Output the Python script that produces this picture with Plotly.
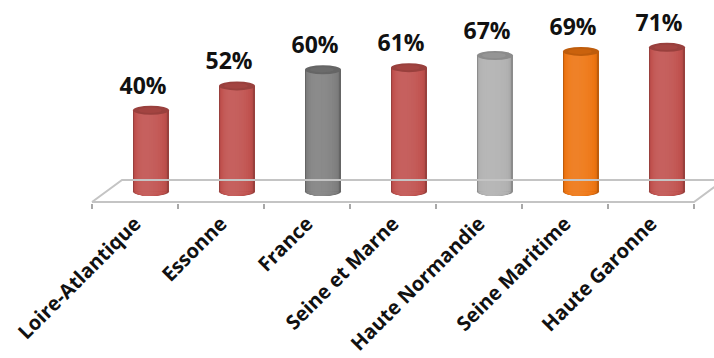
import math
import plotly.graph_objects as go

categories = ["Loire-Atlantique", "Essonne", "France", "Seine et Marne",
              "Haute Normandie", "Seine Maritime", "Haute Garonne"]
values = [40, 52, 60, 61, 67, 69, 71]
labels = ["40%", "52%", "60%", "61%", "67%", "69%", "71%"]
bar_colors = ["#C0504D", "#C0504D", "#7F7F7F", "#C0504D", "#B0B0B0", "#EE7410", "#C0504D"]

# ---- geometry (pixel-based layout constants) ----
W, H = 714, 358
CAT_PX = 86.0          # pixels per category
X_LEFT_PX = 92.0       # pixel of first category boundary
PX_PER_PCT = 2.03
BASE_PX = 191.5        # pixel row of value 0
PLOT_BOTTOM_PX = 203.0

x_min = -0.5 - X_LEFT_PX / CAT_PX
x_max = -0.5 + (W - X_LEFT_PX) / CAT_PX
y_min = -(PLOT_BOTTOM_PX - BASE_PX) / PX_PER_PCT
y_max = BASE_PX / PX_PER_PCT

CYL_OFF = 16 / CAT_PX
CYL_W = 36 / CAT_PX
ELL_H = 9 / PX_PER_PCT
LBL_OFF_X = 8 / CAT_PX
LBL_OFF_Y = 22.5 / PX_PER_PCT
DEPTH_X = 30 / CAT_PX
Y_FRONT = (BASE_PX - 202) / PX_PER_PCT
Y_BACK = (BASE_PX - 180) / PX_PER_PCT


def shade(hexc, f):
    r, g, b = int(hexc[1:3], 16), int(hexc[3:5], 16), int(hexc[5:7], 16)
    if f >= 1:
        r, g, b = [int(c + (255 - c) * (f - 1)) for c in (r, g, b)]
    else:
        r, g, b = [int(c * f) for c in (r, g, b)]
    return "#%02x%02x%02x" % (r, g, b)


fig = go.Figure()

# floor (parallelogram)
n = len(categories)
fx = [-0.5, n - 0.5, n - 0.5 + DEPTH_X, -0.5 + DEPTH_X, -0.5]
fy = [Y_FRONT, Y_FRONT, Y_BACK, Y_BACK, Y_FRONT]
fig.add_trace(go.Scatter(x=fx, y=fy, mode="lines",
                         line=dict(color="#C4C4C4", width=2),
                         hoverinfo="skip", showlegend=False, cliponaxis=True))

# cylinder bodies: nested bars to mimic a horizontal gradient
F_MIN, F_MAX = 0.80, 1.10
layers = []
for k in range(10):
    wf = 1.0 - k * 0.09
    sh = -0.18 * (1 - wf)
    f = F_MIN + (F_MAX - F_MIN) * math.sqrt(max(0.0, 1 - wf * wf)) ** 0.6
    layers.append((wf, sh, f))

xs = [i + CYL_OFF for i in range(n)]
shapes = []
for wf, sh, f in layers:
    fig.add_trace(go.Bar(
        x=[x + sh * CYL_W for x in xs], y=values, width=CYL_W * wf,
        marker=dict(color=[shade(c, f) for c in bar_colors], line=dict(width=0)),
        hoverinfo="skip", showlegend=False))
    for x, c in zip(xs, bar_colors):
        cx = x + sh * CYL_W
        shapes.append(dict(type="circle", xref="x", yref="y", layer="below",
                           x0=cx - CYL_W * wf / 2, x1=cx + CYL_W * wf / 2,
                           y0=-ELL_H / 2, y1=ELL_H / 2,
                           fillcolor=shade(c, f), line=dict(width=0)))

# top caps
for x, v, c in zip(xs, values, bar_colors):
    shapes.append(dict(type="circle", xref="x", yref="y", layer="above",
                       x0=x - CYL_W / 2, x1=x + CYL_W / 2,
                       y0=v - ELL_H / 2, y1=v + ELL_H / 2,
                       fillcolor=shade(c, 0.8), line=dict(width=0)))
    shapes.append(dict(type="circle", xref="x", yref="y", layer="above",
                       x0=x - CYL_W * 0.36, x1=x + CYL_W * 0.3,
                       y0=v - ELL_H * 0.3, y1=v + ELL_H * 0.3,
                       fillcolor=shade(c, 0.85), line=dict(width=0)))

# data labels
fig.add_trace(go.Scatter(
    x=[i + LBL_OFF_X for i in range(n)], y=[v + LBL_OFF_Y for v in values],
    mode="text", text=labels,
    textfont=dict(family="Open Sans", size=23, color="#111111", weight="bold"),
    hoverinfo="skip", showlegend=False, cliponaxis=False))

# invisible trace for the label axis
fig.add_trace(go.Scatter(x=[0], y=[0], xaxis="x2", mode="markers",
                         marker=dict(opacity=0), hoverinfo="skip", showlegend=False))

fig.update_layout(
    width=W, height=H,
    margin=dict(l=0, r=0, t=0, b=H - PLOT_BOTTOM_PX, autoexpand=False),
    paper_bgcolor="white", plot_bgcolor="white",
    barmode="overlay", shapes=shapes,
    xaxis=dict(range=[x_min, x_max], showgrid=False, zeroline=False, showline=False,
               tickmode="array", tickvals=[i - 0.5 for i in range(n + 1)],
               ticktext=[""] * (n + 1), ticks="outside", ticklen=5, tickwidth=2,
               tickcolor="#A8A8A8", fixedrange=True, automargin=False),
    xaxis2=dict(range=[x_min, x_max], overlaying="x", anchor="y", side="bottom",
                showgrid=False, zeroline=False, showline=False,
                tickmode="array", tickvals=list(range(n)), ticktext=categories,
                tickangle=-45, ticks="", ticklabelstandoff=4,
                tickfont=dict(family="Open Sans", size=20, color="#111111", weight="bold"),
                fixedrange=True, automargin=False),
    yaxis=dict(range=[y_min, y_max], visible=False, fixedrange=True, automargin=False),
)

fig.write_html("out.html")
